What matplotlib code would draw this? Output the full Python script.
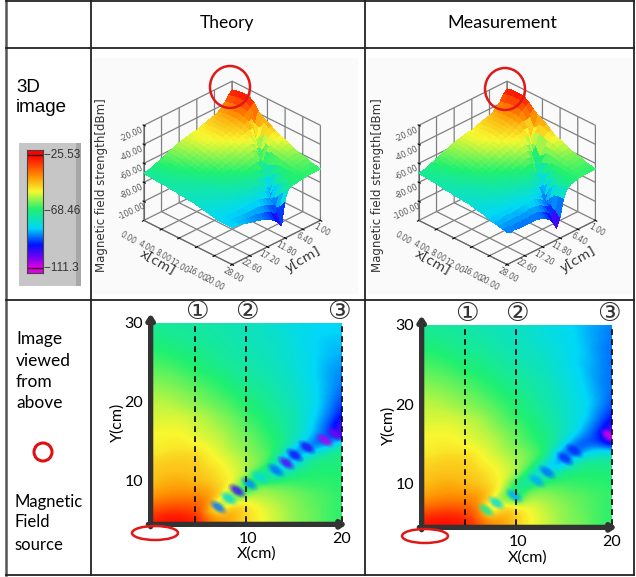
import numpy as np
import matplotlib
matplotlib.use("Agg")
import matplotlib.pyplot as plt
from matplotlib.colors import LinearSegmentedColormap, Normalize
from matplotlib.markers import MarkerStyle
from matplotlib.patches import Ellipse, Rectangle
from matplotlib.transforms import Affine2D

W, H = 636, 577

# x = 0..20 cm, y = 30..5 cm, field strength in dBm
x_cm = list(range(0, 21))
y_cm = list(range(30, 4, -1))
theory = [
    [-70,-71,-71,-72,-72,-72,-73,-73,-74,-74,-75,-75,-76,-77,-78,-79,-80,-81,-81,-81,-81],
    [-70,-70,-71,-71,-71,-72,-72,-73,-73,-74,-75,-75,-76,-77,-78,-79,-80,-81,-81,-81,-82],
    [-69,-69,-70,-70,-71,-71,-72,-72,-73,-74,-74,-75,-76,-76,-77,-79,-80,-81,-82,-82,-82],
    [-67,-68,-68,-69,-70,-70,-71,-72,-72,-73,-74,-75,-75,-76,-77,-78,-80,-81,-82,-83,-83],
    [-66,-66,-67,-68,-68,-69,-70,-71,-72,-73,-73,-74,-75,-76,-77,-78,-79,-81,-82,-83,-84],
    [-64,-65,-65,-66,-67,-68,-69,-70,-71,-72,-73,-74,-74,-75,-76,-78,-79,-81,-83,-84,-85],
    [-63,-63,-64,-65,-66,-67,-68,-69,-70,-71,-72,-73,-74,-75,-76,-77,-79,-81,-83,-85,-86],
    [-61,-62,-62,-63,-64,-65,-66,-67,-69,-70,-71,-72,-73,-74,-75,-77,-79,-81,-83,-85,-87],
    [-60,-60,-61,-62,-63,-64,-65,-66,-67,-69,-70,-71,-72,-73,-75,-76,-78,-80,-83,-85,-88],
    [-58,-59,-59,-60,-61,-62,-63,-65,-66,-67,-69,-70,-71,-73,-74,-76,-78,-80,-83,-86,-89],
    [-57,-57,-58,-59,-60,-61,-62,-63,-64,-66,-67,-69,-70,-72,-73,-75,-77,-80,-83,-87,-91],
    [-56,-56,-56,-57,-58,-59,-60,-62,-63,-65,-66,-68,-69,-71,-72,-74,-77,-80,-84,-88,-93],
    [-55,-55,-55,-55,-56,-57,-58,-60,-61,-63,-65,-66,-68,-70,-72,-74,-77,-81,-85,-90,-96],
    [-54,-54,-54,-54,-55,-56,-57,-59,-60,-62,-64,-65,-67,-69,-71,-74,-77,-82,-87,-93,-100],
    [-53,-53,-53,-53,-54,-55,-56,-57,-59,-61,-62,-64,-66,-68,-71,-74,-78,-83,-88,-92,-105],
    [-53,-52,-52,-52,-53,-54,-55,-56,-58,-60,-61,-63,-65,-67,-70,-75,-80,-88,-92,-88,-80],
    [-52,-52,-51,-51,-51,-52,-53,-55,-57,-59,-60,-62,-64,-67,-72,-84,-90,-86,-80,-74,-70],
    [-50,-50,-49,-49,-49,-50,-52,-54,-55,-57,-59,-61,-63,-68,-84,-88,-78,-72,-70,-69,-68],
    [-49,-48,-48,-48,-48,-49,-51,-52,-54,-56,-58,-60,-64,-78,-86,-78,-72,-69,-68,-68,-68],
    [-48,-47,-47,-47,-47,-48,-49,-51,-53,-55,-58,-66,-74,-80,-74,-70,-68,-67,-67,-67,-67],
    [-47,-46,-45,-45,-46,-47,-48,-50,-52,-56,-64,-72,-70,-68,-66,-66,-66,-66,-66,-66,-67],
    [-45,-44,-43,-43,-43,-44,-45,-48,-52,-62,-74,-60,-60,-61,-62,-63,-64,-65,-65,-66,-66],
    [-42,-41,-40,-40,-40,-41,-43,-47,-64,-66,-56,-57,-58,-59,-60,-61,-62,-63,-64,-65,-66],
    [-38,-37,-36,-36,-36,-37,-41,-62,-56,-50,-52,-54,-56,-57,-59,-60,-62,-63,-64,-65,-66],
    [-33,-32,-31,-31,-32,-35,-48,-50,-44,-47,-50,-52,-54,-56,-58,-60,-61,-62,-64,-65,-66],
    [-29,-28,-27,-27,-28,-31,-38,-42,-44,-47,-50,-52,-54,-56,-58,-60,-61,-62,-64,-65,-66],
]
measurement = [
    [-70,-71,-71,-72,-72,-73,-74,-74,-75,-75,-76,-76,-77,-78,-79,-80,-82,-83,-84,-85,-86],
    [-70,-70,-71,-71,-72,-72,-73,-74,-74,-75,-76,-76,-77,-78,-79,-80,-81,-83,-85,-86,-88],
    [-69,-69,-70,-70,-71,-72,-72,-73,-74,-75,-75,-76,-77,-78,-79,-80,-81,-83,-84,-86,-87],
    [-67,-68,-68,-69,-70,-71,-71,-72,-73,-74,-75,-75,-76,-77,-78,-80,-81,-82,-85,-87,-88],
    [-66,-66,-67,-68,-69,-70,-70,-71,-72,-73,-74,-75,-75,-76,-78,-79,-81,-82,-84,-86,-88],
    [-64,-65,-65,-66,-67,-68,-69,-70,-71,-72,-73,-74,-75,-76,-77,-79,-81,-83,-84,-87,-88],
    [-63,-63,-64,-65,-66,-67,-68,-69,-70,-71,-72,-73,-74,-75,-77,-78,-80,-82,-85,-86,-88],
    [-61,-62,-62,-63,-64,-65,-66,-67,-69,-70,-71,-72,-73,-74,-76,-78,-80,-82,-84,-87,-88],
    [-60,-60,-61,-62,-63,-64,-65,-66,-67,-69,-70,-71,-73,-74,-75,-77,-79,-81,-84,-86,-88],
    [-58,-59,-59,-60,-61,-62,-63,-65,-66,-67,-69,-70,-72,-73,-75,-77,-79,-81,-83,-86,-89],
    [-57,-57,-58,-59,-60,-61,-62,-63,-65,-66,-68,-69,-71,-73,-74,-76,-78,-80,-83,-86,-90],
    [-56,-56,-56,-57,-58,-59,-60,-62,-63,-65,-67,-68,-70,-72,-74,-76,-78,-80,-84,-88,-92],
    [-55,-55,-55,-55,-56,-57,-58,-60,-62,-64,-66,-67,-69,-71,-73,-75,-78,-81,-85,-90,-95],
    [-54,-54,-54,-54,-55,-56,-57,-59,-61,-62,-64,-66,-68,-70,-72,-75,-78,-83,-88,-93,-100],
    [-53,-53,-53,-53,-54,-55,-56,-57,-59,-61,-63,-65,-67,-69,-72,-76,-81,-86,-90,-96,-108],
    [-53,-52,-52,-52,-53,-54,-55,-56,-58,-60,-62,-64,-66,-68,-72,-80,-87,-91,-90,-93,-98],
    [-52,-52,-51,-51,-51,-52,-53,-55,-57,-59,-60,-62,-64,-68,-78,-88,-92,-86,-81,-80,-80],
    [-50,-50,-49,-49,-49,-50,-52,-54,-55,-57,-59,-61,-64,-72,-84,-90,-80,-74,-72,-72,-72],
    [-49,-48,-48,-48,-48,-49,-51,-52,-54,-56,-58,-62,-72,-82,-84,-76,-71,-69,-69,-69,-69],
    [-48,-47,-47,-47,-47,-48,-49,-51,-53,-55,-60,-70,-80,-76,-70,-68,-67,-67,-67,-67,-68],
    [-47,-46,-45,-45,-46,-47,-48,-50,-52,-58,-72,-74,-68,-66,-65,-65,-65,-66,-66,-66,-67],
    [-45,-44,-43,-43,-43,-44,-45,-48,-52,-66,-70,-64,-61,-61,-62,-63,-64,-64,-65,-65,-66],
    [-42,-41,-40,-40,-40,-41,-43,-48,-62,-62,-70,-58,-58,-59,-60,-61,-62,-63,-64,-65,-66],
    [-38,-37,-36,-36,-36,-37,-42,-60,-52,-50,-52,-54,-55,-57,-59,-60,-62,-63,-64,-65,-66],
    [-32,-31,-30,-30,-31,-34,-40,-50,-46,-46,-49,-52,-54,-56,-58,-60,-61,-62,-64,-65,-66],
    [-28,-27,-27,-27,-28,-31,-36,-40,-42,-45,-49,-52,-54,-56,-58,-60,-61,-62,-64,-65,-66],
]
# dark spots along the null line: x cm, y cm, dBm
theory_beads = [(6.9, 6.6, -88), (8.0, 7.7, -78), (8.9, 8.7, -99), (10.2, 9.6, -86),
                (11.3, 10.4, -78), (13.0, 11.3, -88), (14.1, 12.2, -101), (15.0, 13.2, -96),
                (16.3, 14.2, -97), (18.2, 15.1, -108), (19.3, 15.9, -104)]
measurement_beads = [(6.6, 6.6, -72), (7.7, 7.5, -78), (9.6, 8.4, -84), (12.0, 10.3, -84),
                     (13.1, 11.4, -88), (15.0, 13.1, -92), (16.0, 14.1, -92), (19.7, 16.0, -110)]
x_ticks_3d = [0, 4, 8, 12, 16, 20]
y_ticks_3d = [1, 6.4, 11.8, 17.2, 22.6, 28]
z_ticks_3d = [-20, -40, -60, -80, -100]
bar_ticks = [-25.53, -68.46, -111.3]
bar_labels = ["--25.53", "--68.46", "--111.3"]
dash_x = [4.4, 9.8, 20]
mark_x = [4.6, 9.9, 19.7]
dash_marks = ["①", "②", "③"]

cmap = LinearSegmentedColormap.from_list("field", [
    (0.00, "#e000e8"), (0.07, "#8a00f0"), (0.20, "#0010ff"), (0.35, "#00d8f8"),
    (0.52, "#20f070"), (0.68, "#f8f830"), (0.82, "#ff8c00"), (1.00, "#ff0000")])
norm = Normalize(-111.3, -25.53)

fig = plt.figure(figsize=(W / 100, H / 100), dpi=100)


def px_axes(left, top, right, bottom, **kw):
    return fig.add_axes([left / W, 1 - bottom / H, (right - left) / W, (bottom - top) / H], **kw)


bg = px_axes(0, 0, W, H, zorder=0)
bg.set_xlim(0, W)
bg.set_ylim(H, 0)
bg.axis("off")
top = px_axes(0, 0, W, H, zorder=5)
top.set_xlim(0, W)
top.set_ylim(H, 0)
top.axis("off")
top.patch.set_alpha(0)

# table
for xp, c, lw in [(6, "#555555", 1.8), (90.5, "#222222", 1.3), (364.5, "#222222", 1.3), (634, "#222222", 1.3)]:
    bg.plot([xp, xp], [0, 575], color=c, lw=lw)
for yp in [0.5, 48, 300, 575]:
    bg.plot([6, 634], [yp, yp], color="#222222", lw=1.3)
for x0 in [93, 367]:
    bg.add_patch(Rectangle((x0, 58), 265, 236, color="#fafafa", lw=0))

bg.text(227, 23, "Theory", ha="center", va="center", fontsize=12.5, family="Lato")
bg.text(502, 23, "Measurement", ha="center", va="center", fontsize=13, family="Lato")
bg.text(16, 88, "3D", va="center", fontsize=13.5, family="Liberation Sans")
bg.text(16, 108, "image", va="center", fontsize=13.5, family="Liberation Sans")
for yp, s in zip([339, 361, 382, 403], ["Image", "viewed", "from", "above"]):
    bg.text(16, yp, s, va="center", fontsize=12.5, family="Lato")
for yp, s in zip([502, 522, 545], ["Magnetic", "Field", "source"]):
    bg.text(14, yp, s, va="center", fontsize=12, family="Lato")
bg.add_patch(Ellipse((43, 452), 18, 18, fill=False, ec="#e01010", lw=2.2))

# colour bar
bg.add_patch(Rectangle((19, 143), 62, 143, color="#c6c6c6", lw=0))
bg.add_patch(Rectangle((76, 143), 5, 143, color="#a8a8a8", lw=0))
cax = px_axes(27, 150, 43, 273, zorder=2)
levels = np.linspace(-22, -115, 124).reshape(-1, 1)
cax.imshow(levels, cmap=cmap, norm=norm, aspect="auto", extent=(0, 1, -115, -22))
cax.hlines(bar_ticks[0::2], 0, 1, color="#301010", lw=1)
cax.set_xticks([])
cax.set_yticks([])
for s in cax.spines.values():
    s.set_color("#444444")
    s.set_linewidth(0.8)
for v, s in zip(bar_ticks, bar_labels):
    yp = 150 + (-22 - v) / 93 * 123
    bg.text(44, yp, s, va="center", fontsize=8.5, color="#333333", family="Liberation Sans")


def surface(data, left, right):
    ax = px_axes(left, 60, right, 292, projection="3d", proj_type="ortho", zorder=1)
    ax.patch.set_alpha(0)
    Z = np.array(data, dtype=float)
    X, Y = np.meshgrid(x_cm, np.linspace(28, 1, len(y_cm)))
    # colour each facet by the mean of its corners
    mid = Z.copy()
    mid[:-1, :-1] = (Z[:-1, :-1] + Z[1:, :-1] + Z[:-1, 1:] + Z[1:, 1:]) / 4
    ax.plot_surface(X, Y, Z, facecolors=cmap(norm(mid)), rstride=1, cstride=1,
                    shade=False, antialiased=False, linewidth=0)
    ax.set_xlim(0, 20)
    ax.set_ylim(28, 1)
    ax.set_zlim(-120, -20)
    ax.view_init(elev=30, azim=-45)
    ax.set_box_aspect((1, 1, 0.88), zoom=0.87)
    ax.set_xticks(x_ticks_3d)
    ax.set_yticks(y_ticks_3d)
    ax.set_zticks(z_ticks_3d)
    ax.set_xticklabels(["%.2f" % v for v in x_ticks_3d], rotation=-30, fontsize=5.5, color="#555555", ha="right")
    ax.set_yticklabels(["%.2f" % v for v in y_ticks_3d], rotation=-30, fontsize=5.5, color="#555555")
    ax.set_zticklabels(["%.2f" % v for v in z_ticks_3d], rotation=25, fontsize=5.5, color="#555555")
    ax.zaxis.set_ticks_position("upper")
    for a in (ax.xaxis, ax.yaxis, ax.zaxis):
        a.pane.set_visible(False)
        a.line.set_color("#666666")
        a._axinfo["grid"].update(color="#808080", linewidth=0.9)
    ax.tick_params(pad=-2, length=2)
    ax.tick_params(axis="y", pad=-7)
    return ax


surface(theory, 100, 358)
surface(measurement, 375, 633)

for xp, yp, s, rot, fs in [(102, 185, "Magnetic field strength[dBm]", 90, 8.5), (158, 262, "x[cm]", -30, 9.5),
                           (303, 260, "y[cm]", 30, 9.5), (377, 185, "Magnetic field strength[dBm]", 90, 8.5),
                           (433, 262, "x[cm]", -30, 9.5), (578, 260, "y[cm]", 30, 9.5)]:
    top.text(xp, yp, s, rotation=rot, ha="center", va="center", fontsize=fs, color="#333333", family="DejaVu Sans")


def heatmap(data, beads, left, top_px, right, bottom):
    ax = px_axes(left, top_px, right, bottom, zorder=1)
    ax.imshow(data, cmap=cmap, norm=norm, aspect="auto", interpolation="bicubic",
              extent=(x_cm[0] - 0.5, x_cm[-1] + 0.5, y_cm[-1] - 0.5, y_cm[0] + 0.5))
    # soft edged spots: stacked see-through ellipses
    spot = MarkerStyle("o", transform=Affine2D().scale(1, 0.5).rotate_deg(-35))
    bx, by, bv = zip(*beads)
    for size, alpha in [(230, 0.18), (150, 0.25), (90, 0.35), (45, 0.5)]:
        ax.scatter(bx, by, s=size, c=bv, cmap=cmap, norm=norm, marker=spot, alpha=alpha, linewidths=0)
    ax.set_xlim(0, 20)
    ax.set_ylim(4.7, 30)
    ax.set_xticks([10, 20])
    ax.set_yticks([10, 20, 30])
    ax.tick_params(length=0, labelsize=11.5, pad=7)
    for lab in ax.get_xticklabels() + ax.get_yticklabels():
        lab.set_family("Lato")
    ax.set_xlabel("X(cm)", fontsize=11.5, family="Lato", labelpad=4)
    ax.set_ylabel("Y(cm)", fontsize=11.5, family="Lato", labelpad=0)
    ax.xaxis.set_label_coords(0.55, -0.125)
    for s in ax.spines.values():
        s.set_visible(False)
    ax.vlines(dash_x, 4.7, 30, color="black", lw=1.2, linestyles=(0, (3.5, 2.5)), clip_on=False)
    for xv, s in zip(mark_x, dash_marks):
        ax.text(xv, 31.4, s, ha="center", va="center", fontsize=19, family="DejaVu Sans", color="#333333")
    # thick axis arrows
    ax.annotate("", xy=(-0.25, 31.2), xytext=(-0.25, 4.1), annotation_clip=False,
                arrowprops=dict(arrowstyle="-|>,head_width=0.2,head_length=0.3", lw=3.8, color="#333333", shrinkA=0, shrinkB=0))
    ax.annotate("", xy=(20.5, 4.4), xytext=(-0.5, 4.4), annotation_clip=False,
                arrowprops=dict(arrowstyle="-|>,head_width=0.2,head_length=0.3", lw=3.8, color="#333333", shrinkA=0, shrinkB=0))


heatmap(theory, theory_beads, 153, 323, 342, 522)
heatmap(measurement, measurement_beads, 424, 325, 612, 525)

# red source markers
for xy, w, h, ang in [((230, 87), 40, 42, 0), ((505, 89), 40, 42, 0),
                      ((155, 533), 46, 14, 0), ((425, 536), 46, 14, 0)]:
    top.add_patch(Ellipse(xy, w, h, angle=ang, fill=False, ec="#e01818", lw=1.8))

fig.savefig("out.png", dpi=100)
